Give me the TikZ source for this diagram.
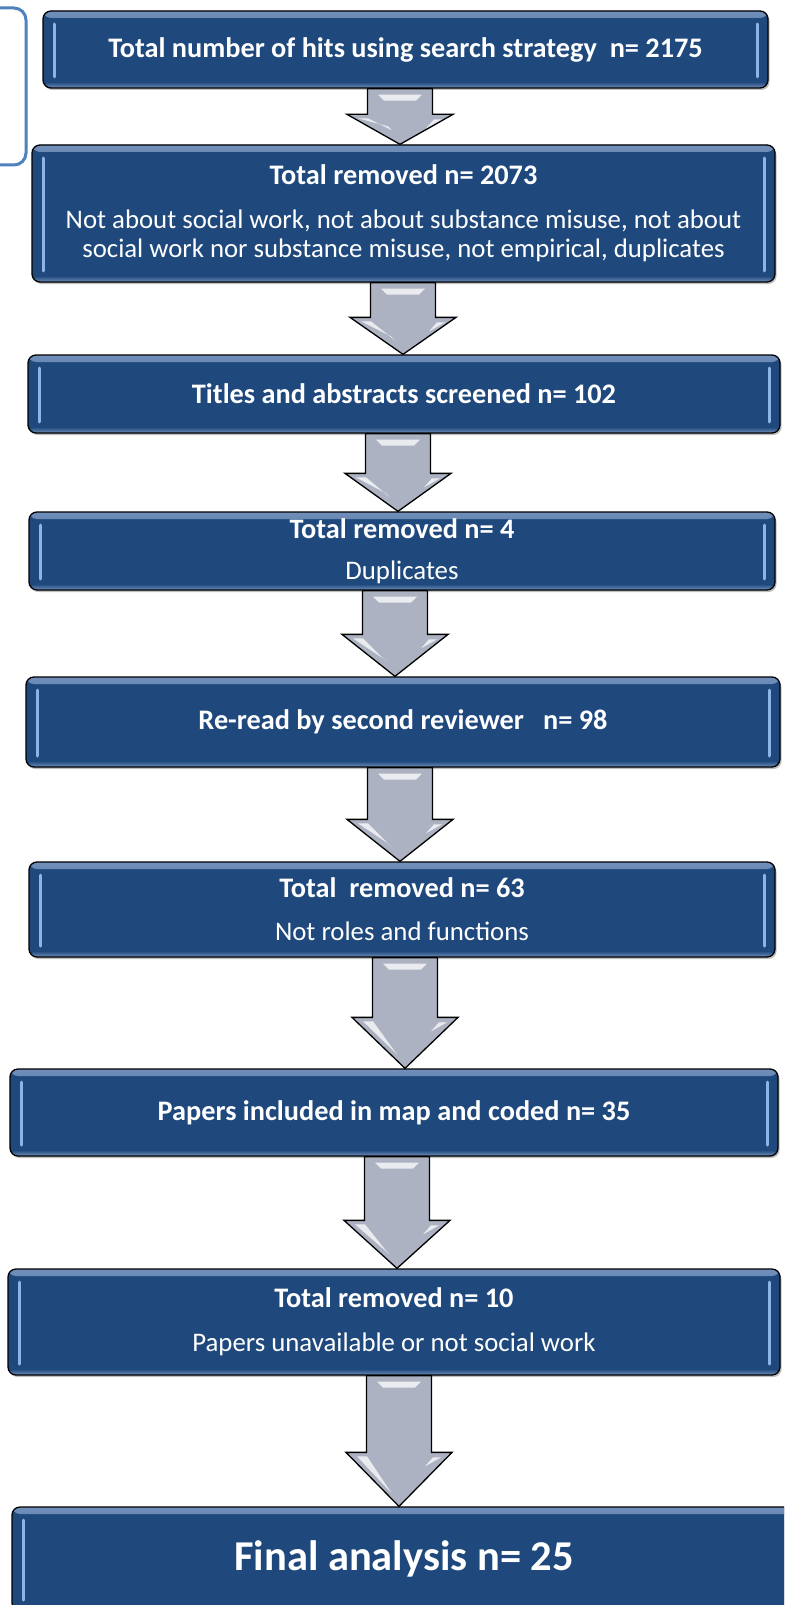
\documentclass[tikz,border=0pt]{standalone}
\usepackage{fontspec}
\setmainfont{Carlito}
\usetikzlibrary{calc,shadows}

\definecolor{boxblue}{RGB}{31,73,125}
\definecolor{boxedge}{RGB}{112,143,186}
\definecolor{glint}{RGB}{140,180,228}
\definecolor{arrowgrey}{RGB}{172,178,194}
\definecolor{bracketblue}{RGB}{79,129,189}

\newcommand\stagetitle{\fontsize{28.3}{30}\selectfont\bfseries}
\newcommand\stagenote{\fontsize{26.8}{29}\selectfont}

% one grey block arrow from the bottom of #1 to the top of #2
% #3 = centre x, #4 = length of the head
\newcommand\flowarrow[4]{%
  \draw[blockarrow] let \p1=(#1.south), \p2=(#2.north) in
    (#3-32.5pt,\y1) -- (#3-32.5pt,\y2+#4) -- (#3-53pt,\y2+#4) -- (#3,\y2)
    -- (#3+53pt,\y2+#4) -- (#3+32.5pt,\y2+#4) -- (#3+32.5pt,\y1) -- cycle;
  \fill[glare] let \p1=(#1.south), \p2=(#2.north) in
    (#3-22pt,\y1-6pt) -- (#3+22pt,\y1-6pt) -- (#3+16pt,\y1-12pt) -- (#3-16pt,\y1-12pt) -- cycle
    (#3-42pt,\y2+#4-4pt) -- (#3-32pt,\y2+#4-4pt) -- (#3-8pt,\y2+14pt) -- (#3-12pt,\y2+18pt) -- cycle
    (#3+34pt,\y2+#4-5pt) -- (#3+42pt,\y2+#4-5pt) -- (#3+26pt,\y2+#4-14pt) -- cycle;
}

\tikzset{
  stagebox/.style={rounded corners=8pt, fill=boxblue, draw=black, line width=1.3pt,
    text=white, align=center, inner sep=0pt, font=\stagenote,
    drop shadow={shadow xshift=1.5pt, shadow yshift=-2pt, opacity=.5},
    path picture={
      \shade[top color=boxedge, bottom color=boxblue]
        (path picture bounding box.north west) rectangle ([yshift=-7pt]path picture bounding box.north east);
      \shade[bottom color=boxedge, top color=boxblue]
        (path picture bounding box.south west) rectangle ([yshift=6pt]path picture bounding box.south east);
      \draw[glint, line width=3pt, line cap=round]
        ([xshift=11pt,yshift=-13pt]path picture bounding box.north west)
        -- ([xshift=11pt,yshift=11pt]path picture bounding box.south west);
      \draw[glint, line width=3pt, line cap=round]
        ([xshift=-11pt,yshift=-13pt]path picture bounding box.north east)
        -- ([xshift=-11pt,yshift=11pt]path picture bounding box.south east);
    }},
  blockarrow/.style={fill=arrowgrey, draw=black, line width=1.3pt, line join=miter},
  glare/.style={white, opacity=.75}
}

\begin{document}
\begin{tikzpicture}[x=1pt, y=-1pt]
  \clip (0,0) rectangle (784,1605);
  \fill[white] (0,0) rectangle (784,1605);

  \draw[bracketblue, line width=3pt, rounded corners=12pt]
    (-6,8) -- (26,8) -- (26,165) -- (-6,165);

  \node[stagebox, minimum width=725pt, minimum height=77pt] (hits) at (405.5,49.5)
    {\stagetitle Total number of hits using search strategy\ \ n= 2175};
  \node[stagebox, minimum width=743pt, minimum height=137pt] (removed1) at (403.5,213.5)
    {{\stagetitle Total removed n= 2073}\\[15pt]
     Not about social work, not about substance misuse, not about\\
     social work nor substance misuse, not empirical, duplicates};
  \node[stagebox, minimum width=752pt, minimum height=78pt] (screened) at (404,394)
    {\stagetitle Titles and abstracts screened n= 102};
  \node[stagebox, minimum width=746pt, minimum height=78pt] (removed2) at (402,551)
    {{\stagetitle Total removed n= 4}\\[12pt] Duplicates};
  \node[stagebox, minimum width=754pt, minimum height=90pt] (reread) at (403,722)
    {\stagetitle Re-read by second reviewer\ \ \ n= 98};
  \node[stagebox, minimum width=746pt, minimum height=95pt] (removed3) at (402,909.5)
    {{\stagetitle Total\ \ removed n= 63}\\[14pt] Not roles and functions};
  \node[stagebox, minimum width=768pt, minimum height=87pt] (coded) at (394,1112.5)
    {\stagetitle Papers included in map and coded n= 35};
  \node[stagebox, minimum width=772pt, minimum height=106pt] (removed4) at (394,1322)
    {{\stagetitle Total removed n= 10}\\[15pt] Papers unavailable or not social work};
  \node[stagebox, minimum width=784pt, minimum height=104pt] (final) at (404,1559)
    {\fontsize{42.5}{48}\selectfont\bfseries Final analysis n= 25};

  \flowarrow{hits}{removed1}{400pt}{30pt}
  \flowarrow{removed1}{screened}{403pt}{37pt}
  \flowarrow{screened}{removed2}{398pt}{38pt}
  \flowarrow{removed2}{reread}{395pt}{42pt}
  \flowarrow{reread}{removed3}{400pt}{42pt}
  \flowarrow{removed3}{coded}{405pt}{51pt}
  \flowarrow{coded}{removed4}{397pt}{48pt}
  \flowarrow{removed4}{final}{399pt}{54pt}
\end{tikzpicture}
\end{document}
